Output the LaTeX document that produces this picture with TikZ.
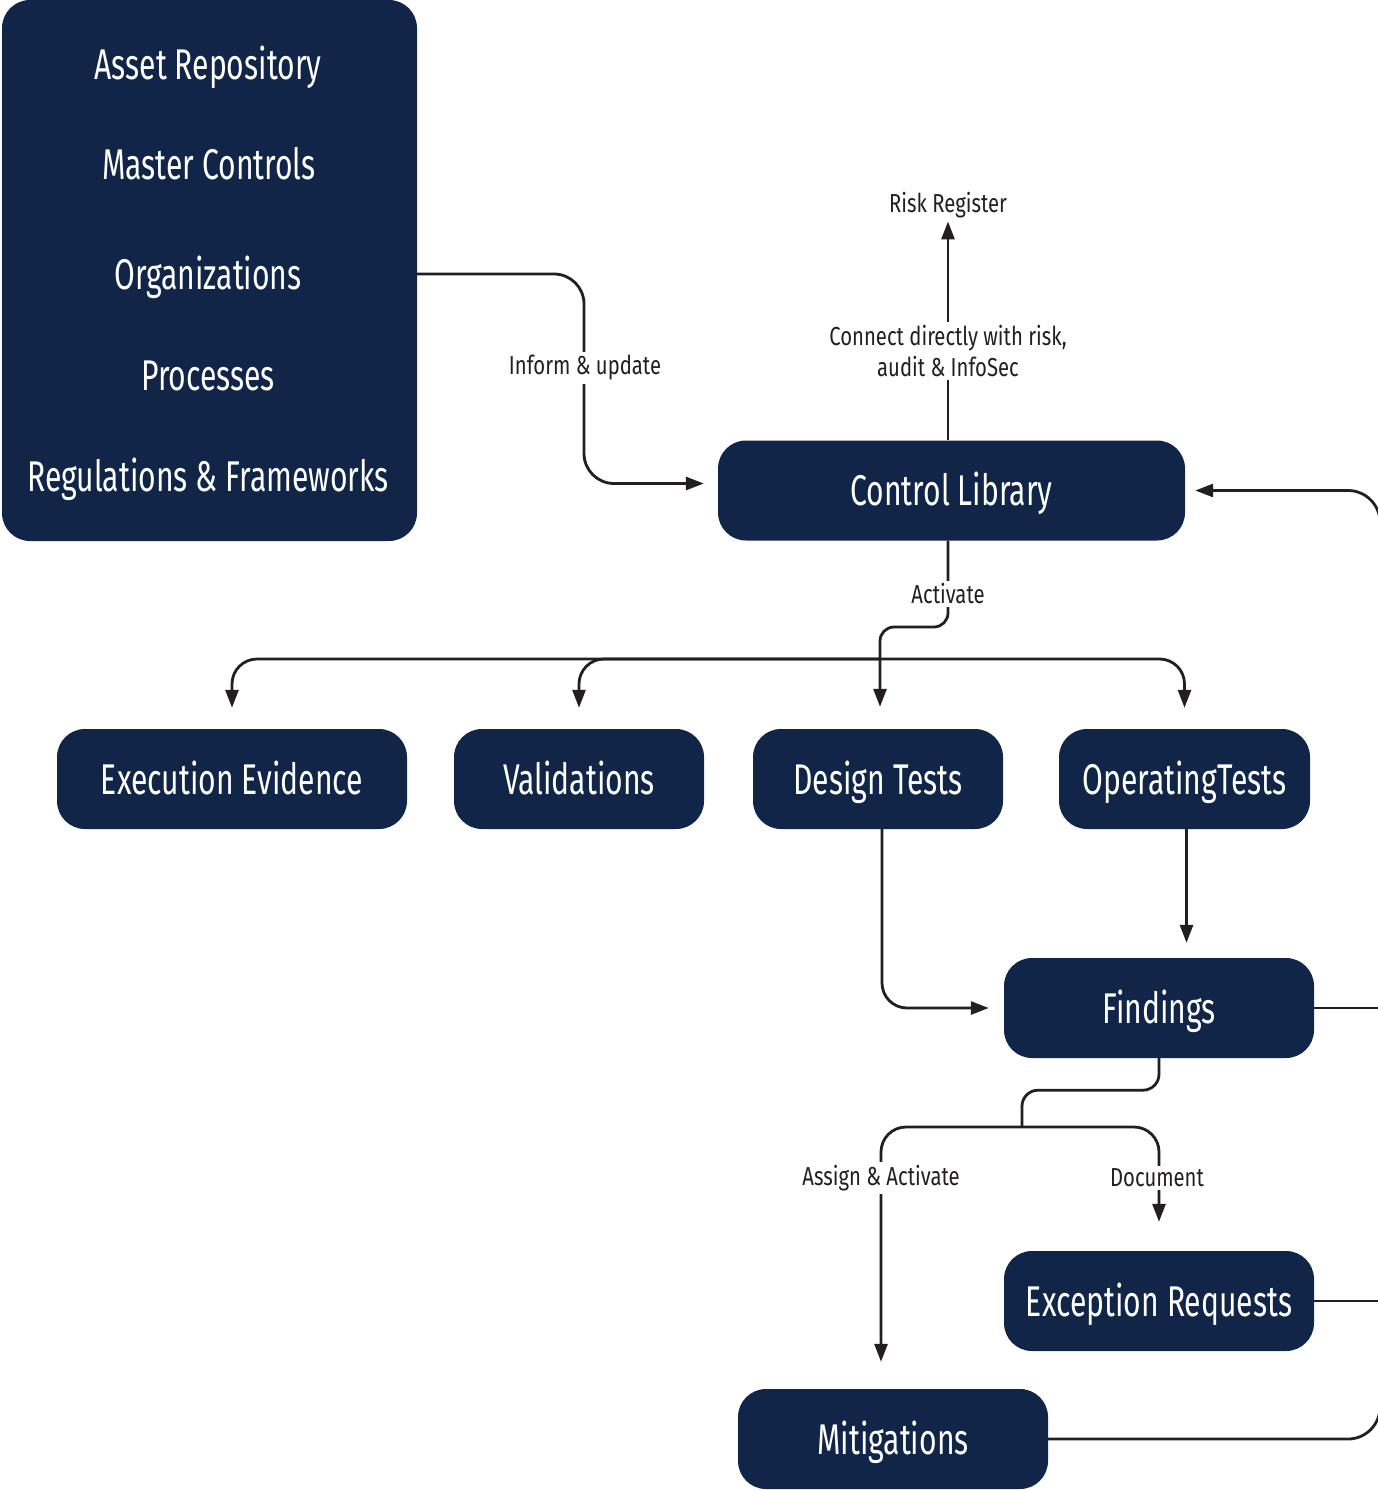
\documentclass[tikz,border=0pt]{standalone}
\usepackage{fontspec}
\setmainfont{Fira Sans}[FakeStretch=0.7]
\newfontfamily\lblfont{Fira Sans}[FakeStretch=0.78]
\usetikzlibrary{arrows.meta,calc,positioning}
\definecolor{navy}{HTML}{112548}
\definecolor{ink}{HTML}{231F20}
\tikzset{
	box/.style={fill=navy, text=white, rounded corners=28pt, minimum height=100pt, inner sep=0pt, text height=30pt, text depth=0pt, font=\fontsize{43}{50}\selectfont},
	boxtext/.style={text=white, inner sep=0pt, text height=30pt, text depth=0pt, font=\fontsize{43}{50}\selectfont},
	flow/.style={draw=ink, line width=2.8pt, rounded corners=25pt},
	arr/.style={flow, -{Triangle[length=18pt,width=13pt]}},
	lbl/.style={fill=white, text=ink, inner sep=3pt, font=\lblfont\fontsize{26}{31}\selectfont, align=center},
}

\begin{document}
\begin{tikzpicture}[x=1pt, y=-1pt]
		%%%%% START %%%%%
		\useasboundingbox (0,0) rectangle (1377,1490);
		
		\node[box, minimum width=415pt, minimum height=541pt] (repo) at (209.5,270.5) {};
		\node[boxtext] (asset) at (208,65) {Asset Repository};
		\node[boxtext] (master) at (209,165) {Master Controls};
		\node[boxtext] (orgs) at (208,274) {Organizations};
		\node[boxtext] (procs) at (208,375) {Processes};
		\node[boxtext] (regs) at (208,476) {Regulations \& Frameworks};
		
		\node[box, minimum width=467pt] (lib) at (951.5,490.5) {Control Library};
		\node[text=ink, font=\lblfont\fontsize{26}{31}\selectfont] (risk) at (948,205) {Risk Register};
		
		\node[box, minimum width=350pt] (exec) at (232,779) {Execution Evidence};
		\node[box, minimum width=250pt] (valid) at (579,779) {Validations};
		\node[box, minimum width=250pt] (design) at (878,779) {Design Tests};
		\node[box, minimum width=251pt] (oper) at (1184.5,779) {OperatingTests};
		
		\node[box, minimum width=310pt] (find) at (1159,1008) {Findings};
		\node[box, minimum width=310pt] (exc) at (1159,1301) {Exception Requests};
		\node[box, minimum width=310pt] (mitig) at (893,1439) {Mitigations};
		
		\coordinate (libin) at ($(lib.west)+(0,-7)$);
		\coordinate (libtop) at ($(lib.north)+(-3.5,0)$);
		\coordinate (libbot) at ($(lib.south)+(-3.5,0)$);
		\coordinate (bus) at (880,659);
		\coordinate (split) at (1022,1127);
		\coordinate (opbot) at ($(oper.south)+(2,0)$);
		\coordinate (desbot) at ($(design.south)+(4,0)$);
		
		\draw[arr, rounded corners=30pt, shorten >=14pt] (orgs -| repo.east) -| (584,400) |- (libin);
		\draw[arr] (libtop) -- (libtop |- risk.south);
		\draw[arr, rounded corners=14pt, shorten >=22pt] (libbot) -- (948,627) -| ($(design.north)+(2,0)$);
		\foreach \t in {exec,valid,oper}
			\draw[arr, shorten >=21pt] (bus) -| (\t.north);
		
		\draw[arr, shorten >=15pt] (desbot) |- (find.west);
		\draw[arr, shorten >=15pt] (opbot) -- (opbot |- find.north);
		
		\draw[flow, rounded corners=16pt] (find.south) -- ++(0,32) -| (split);
		\draw[arr, shorten >=27pt] (split) -| ($(mitig.north)+(-12,0)$);
		\draw[arr, shorten >=29pt] (split) -| (exc.north);
		
		\draw[flow] (find.east) -- (1382,1008);
		\draw[flow] (exc.east) -- (1382,1301);
		\draw[arr, rounded corners=32pt, shorten >=10pt] (mitig.east) -| (1380,1000) |- (lib.east);
		
		\node[lbl] (inform) at (585,368) {Inform \& update};
		\node[lbl] (connect) at (948,351) {Connect directly with risk,\\audit \& InfoSec};
		\node[lbl] (activate) at (948,594) {Activate};
		\node[lbl] (assign) at (881,1178) {Assign \& Activate};
		\node[lbl] (doc) at (1157,1178) {Document};
		%%%%% END %%%%%
\end{tikzpicture}
\end{document}
